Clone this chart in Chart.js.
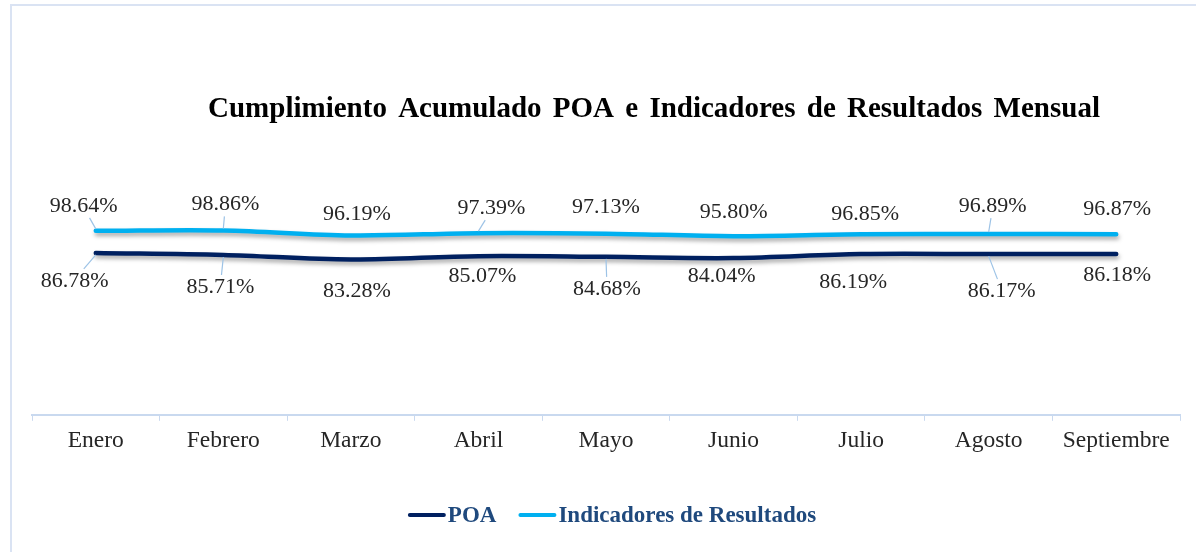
<!DOCTYPE html>
<html>
<head>
<meta charset="utf-8">
<script src="https://cdn.jsdelivr.net/npm/chart.js@4.4.1/dist/chart.umd.min.js"></script>
<style>
  html, body { margin: 0; padding: 0; background: #ffffff; }
  #wrap { position: relative; width: 1196px; height: 552px; overflow: hidden; }
  #frame { position: absolute; left: 10px; top: 4px; width: 1300px; height: 700px;
           border-left: 2px solid #dae3f3; border-top: 2px solid #dae3f3; }
  #chart { position: absolute; left: 0; top: 0; }
</style>
</head>
<body>
<div id="wrap">
  <div id="frame"></div>
  <canvas id="chart" width="1196" height="552"></canvas>
</div>
<script>
// categories and series
const months = ['Enero', 'Febrero', 'Marzo', 'Abril', 'Mayo', 'Junio', 'Julio', 'Agosto', 'Septiembre'];
const poaValues = [86.78, 85.71, 83.28, 85.07, 84.68, 84.04, 86.19, 86.17, 86.18];
const indicadoresValues = [98.64, 98.86, 96.19, 97.39, 97.13, 95.80, 96.85, 96.89, 96.87];

// where each data label sits relative to its point (px), like the moved labels in the original
const poaLabelOffsets = [[-21, 28], [-3, 32], [6, 32], [4, 20], [1, 32], [-12, 18], [-8, 28], [13, 37], [1, 21]];
const indicadoresLabelOffsets = [[-12, -25], [2, -26], [6, -21], [13, -25], [0, -26], [0, -24], [4, -20], [4, -28], [1, -25]];
// labels that show a leader line in the original
const poaLeaders = [true, true, false, false, true, false, false, true, false];
const indicadoresLeaders = [true, true, false, true, false, false, false, true, false];

const COLOR_POA = '#002060';
const COLOR_IND = '#00b0f0';
const FONT_FAMILY = "'Liberation Serif', 'Times New Roman', serif";

// soft drop shadow under the lines
const lineShadow = {
  id: 'lineShadow',
  beforeDatasetDraw(chart) {
    const c = chart.ctx;
    c.save();
    c.shadowColor = 'rgba(0,0,0,0.35)';
    c.shadowBlur = 4;
    c.shadowOffsetX = 1;
    c.shadowOffsetY = 3;
  },
  afterDatasetDraw(chart) {
    chart.ctx.restore();
  }
};

// data labels with leader lines
const dataLabels = {
  id: 'dataLabels',
  afterDatasetsDraw(chart) {
    const c = chart.ctx;
    c.save();
    c.font = '22px ' + FONT_FAMILY;
    c.textAlign = 'center';
    c.textBaseline = 'middle';
    chart.data.datasets.forEach((ds, di) => {
      const meta = chart.getDatasetMeta(di);
      meta.data.forEach((pt, i) => {
        const [dx, dy] = ds.labelOffsets[i];
        const text = ds.data[i].toFixed(2) + '%';
        const cx = pt.x + dx;
        const cy = pt.y + dy;
        const hw = c.measureText(text).width / 2 + 2;
        const hh = 12;
        if (ds.leaders[i]) {
          // leader line from the point to the label box edge
          const vx = cx - pt.x, vy = cy - pt.y;
          const tx = vx !== 0 ? (Math.abs(vx) - hw) / Math.abs(vx) : -1;
          const ty = vy !== 0 ? (Math.abs(vy) - hh) / Math.abs(vy) : -1;
          const t = Math.max(tx, ty);
          if (t > 0) {
            c.beginPath();
            c.strokeStyle = '#9dc3e6';
            c.lineWidth = 1.2;
            c.moveTo(pt.x, pt.y + (dy < 0 ? -2 : 2));
            c.lineTo(pt.x + vx * t, pt.y + vy * t);
            c.stroke();
          }
        }
        c.fillStyle = '#262626';
        c.fillText(text, cx, cy);
      });
    });
    c.restore();
  }
};

// title and legend drawn to match the original placement
const titleAndLegend = {
  id: 'titleAndLegend',
  afterDraw(chart) {
    const c = chart.ctx;
    const area = chart.chartArea;
    const mid = (area.left + area.right) / 2;
    c.save();
    c.font = 'bold 29px ' + FONT_FAMILY;
    c.fillStyle = '#000000';
    c.textAlign = 'center';
    c.textBaseline = 'alphabetic';
    if ('wordSpacing' in c) c.wordSpacing = '4px';
    c.fillText('Cumplimiento Acumulado POA e Indicadores de Resultados Mensual', mid + 48, 117);
    if ('wordSpacing' in c) c.wordSpacing = '0px';

    c.font = 'bold 23px ' + FONT_FAMILY;
    c.textAlign = 'left';
    c.textBaseline = 'middle';
    const items = chart.data.datasets.map(ds => ({ label: ds.label, color: ds.borderColor }));
    const sample = 38, gap = 2, spacing = 22;
    let total = 0;
    items.forEach((it, k) => {
      it.w = c.measureText(it.label).width;
      total += sample + gap + it.w + (k ? spacing : 0);
    });
    let x = mid + 6 - total / 2;
    const y = 515;
    items.forEach((it, k) => {
      if (k) x += spacing;
      c.beginPath();
      c.strokeStyle = it.color;
      c.lineWidth = 4;
      c.lineCap = 'round';
      c.moveTo(x + 2, y);
      c.lineTo(x + sample - 2, y);
      c.stroke();
      x += sample + gap;
      c.fillStyle = '#1f497d';
      c.fillText(it.label, x, y + 1);
      x += it.w;
    });
    c.restore();
  }
};

new Chart(document.getElementById('chart'), {
  type: 'line',
  data: {
    labels: months,
    datasets: [
      {
        label: 'POA',
        data: poaValues,
        labelOffsets: poaLabelOffsets,
        leaders: poaLeaders,
        borderColor: COLOR_POA,
        backgroundColor: COLOR_POA,
        borderWidth: 4.5,
        borderCapStyle: 'round',
        tension: 0.35,
        pointRadius: 0,
        fill: false
      },
      {
        label: 'Indicadores de Resultados',
        data: indicadoresValues,
        labelOffsets: indicadoresLabelOffsets,
        leaders: indicadoresLeaders,
        borderColor: COLOR_IND,
        backgroundColor: COLOR_IND,
        borderWidth: 4.5,
        borderCapStyle: 'round',
        tension: 0.35,
        pointRadius: 0,
        fill: false
      }
    ]
  },
  options: {
    responsive: false,
    animation: false,
    layout: { padding: { top: 191, left: 32, right: 16, bottom: 91 } },
    plugins: {
      legend: { display: false },
      title: { display: false },
      tooltip: { enabled: false }
    },
    scales: {
      x: {
        offset: true,
        grid: {
          offset: true,
          drawOnChartArea: false,
          drawTicks: true,
          tickLength: 6,
          color: '#c9d9ef'
        },
        border: { display: true, color: '#c9d9ef', width: 2 },
        ticks: {
          color: '#262626',
          padding: 6,
          font: { family: FONT_FAMILY, size: 23.5 },
          maxRotation: 0,
          autoSkip: false
        }
      },
      y: {
        display: false,
        min: 0,
        max: 120
      }
    }
  },
  plugins: [lineShadow, dataLabels, titleAndLegend]
});
</script>
</body>
</html>
